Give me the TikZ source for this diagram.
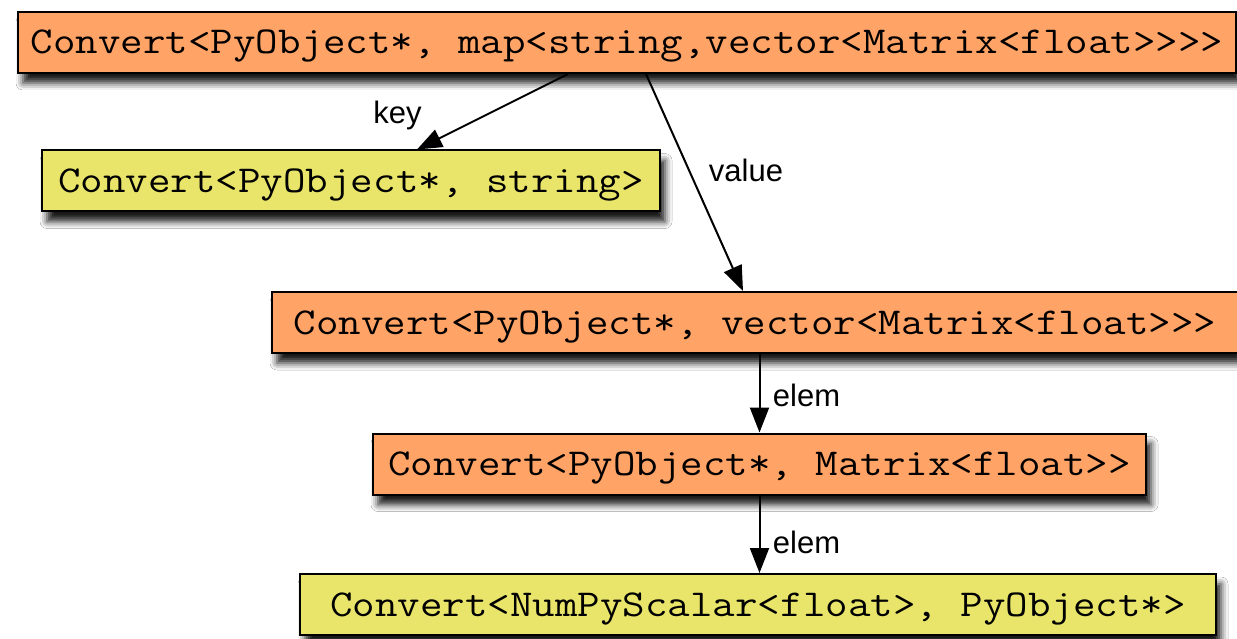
\documentclass[tikz,border=0pt]{standalone}
\usepackage{fontspec}
\newfontfamily\monof[FakeStretch=1.15]{Latin Modern Mono}
\newfontfamily\lblf{Liberation Sans}
\usetikzlibrary{arrows.meta,shadows.blur,calc}
\definecolor{boxorange}{RGB}{255,163,102}
\definecolor{boxyellow}{RGB}{233,229,106}
\tikzset{
  cbox/.style={draw=black, line width=2pt, inner sep=0pt, minimum height=61pt,
    text height=23pt, text depth=0pt,
    font=\monof\fontsize{38}{40}\selectfont,
    blur shadow={shadow xshift=5pt, shadow yshift=-10pt, shadow blur radius=7pt, shadow opacity=90}},
  orangebox/.style={cbox, fill=boxorange},
  yellowbox/.style={cbox, fill=boxyellow},
  conn/.style={draw=black, line width=2pt, -{Triangle[length=25pt,width=19pt]}},
  lbl/.style={font=\lblf\fontsize{31}{34}\selectfont, inner sep=0pt, text=black}
}
\begin{document}
\begin{tikzpicture}[x=1pt,y=-1pt]
\useasboundingbox (0,0) rectangle (1237,639);
\fill[white] (0,0) rectangle (1237,639);
\node[orangebox, minimum width=1218pt] (n1) at (627,42.5) {Convert<PyObject*, map<string,vector<Matrix<float>>>>};
\node[yellowbox, minimum width=618pt] (n2) at (351,181) {Convert<PyObject*, string>};
\node[orangebox, minimum width=966pt] (n3) at (755,322.5) {Convert<PyObject*, vector<Matrix<float>>>};
\node[orangebox, minimum width=773pt] (n4) at (759.5,464) {Convert<PyObject*, Matrix<float>>};
\node[yellowbox, minimum width=916pt] (n5) at (758,604.5) {Convert<NumPyScalar<float>, PyObject*>};

\draw[conn] ([xshift=-59pt]n1.south) -- ([xshift=66pt]n2.north)
  node[lbl, pos=0.5, xshift=-95pt, yshift=-3.5pt] (lkey) {key};
\draw[conn] ([xshift=19pt]n1.south) -- ([xshift=-12pt]n3.north)
  node[lbl, pos=0.5, xshift=51.5pt, yshift=12.5pt] (lvalue) {value};
\draw[conn] (n4.north |- n3.south) -- (n4.north)
  node[lbl, pos=0.5, xshift=47pt, yshift=-2.5pt] (lelem1) {elem};
\draw[conn] (n4.south) -- (n4.south |- n5.north)
  node[lbl, pos=0.5, xshift=47pt, yshift=-8pt] (lelem2) {elem};
\end{tikzpicture}
\end{document}
